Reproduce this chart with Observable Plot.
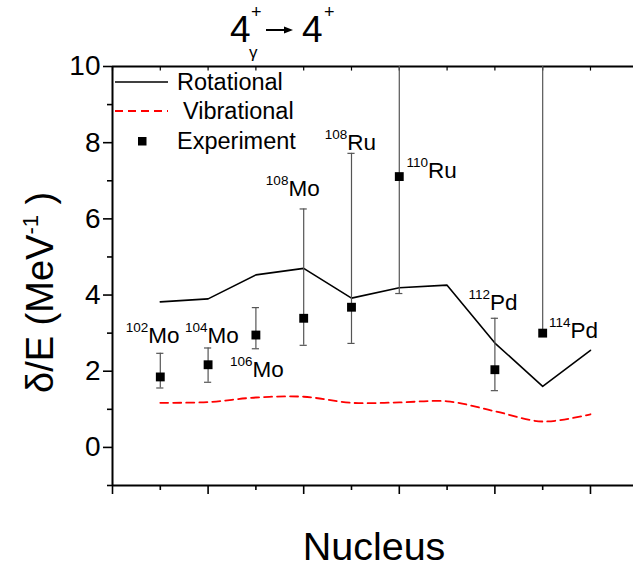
<!DOCTYPE html>
<html><head><meta charset="utf-8">
<script src="https://cdn.jsdelivr.net/npm/d3@7"></script>
<script src="https://cdn.jsdelivr.net/npm/@observablehq/plot@0.6"></script>
<style>body{margin:0;background:#fff}</style>
</head><body><div id="chart"></div>
<script>
// Theory curves, nucleus index 1..10
const nucleusIndex = [1, 2, 3, 4, 5, 6, 7, 8, 9, 10];
const rotational = [3.82, 3.90, 4.53, 4.70, 3.92, 4.19, 4.26, 2.74, 1.60, 2.55];
const vibrational = [1.17, 1.19, 1.31, 1.33, 1.17, 1.18, 1.21, 0.95, 0.68, 0.87];

// Experiment
const expIndex = [1, 2, 3, 4, 5, 6, 8, 9];
const expValue = [1.85, 2.17, 2.95, 3.39, 3.68, 7.11, 2.04, 3.00];
const expLow = [1.56, 1.71, 2.59, 2.68, 2.73, 4.04, 1.49, 3.00];
const expHigh = [2.47, 2.61, 3.67, 6.26, 7.72, 12, 3.39, 12];
const massNumber = ["102", "104", "106", "108", "108", "110", "112", "114"];
const element = ["Mo", "Mo", "Mo", "Mo", "Ru", "Ru", "Pd", "Pd"];
const labelX = [0.75, 1.99, 2.93, 3.68, 4.91, 6.60, 7.90, 9.58];
const labelY = [2.74, 2.74, 1.84, 6.61, 7.82, 7.07, 3.62, 2.88];

const yMajor = [0, 2, 4, 6, 8, 10];
const yMinor = [-1, 1, 3, 5, 7, 9];
const xMajor = [0, 2, 4, 6, 8, 10];
const xMinor = [1, 3, 5, 7, 9];

const rot = nucleusIndex.map((x, i) => ({x, y: rotational[i]}));
const vib = nucleusIndex.map((x, i) => ({x, y: vibrational[i]}));
const exp = expIndex.map((x, i) => ({x, y: expValue[i], lo: expLow[i], hi: expHigh[i],
  mass: massNumber[i], el: element[i], lx: labelX[i], ly: labelY[i]}));
const caps = [];
exp.forEach(d => {
  if (d.lo < d.y) caps.push({x: d.x, y: d.lo});
  if (d.hi <= 10) caps.push({x: d.x, y: d.hi});
});

const font = "'Liberation Sans', Arial, sans-serif";
const plot = Plot.plot({
  width: 633, height: 572,
  marginLeft: 112, marginRight: 0, marginTop: 66, marginBottom: 87,
  x: {domain: [0, 10.9], axis: null},
  y: {domain: [-1, 10], axis: null},
  style: {fontFamily: font, color: "black", background: "white", overflow: "visible"},
  marks: [
    Plot.axisY({ticks: yMajor, tickSize: 9, tickPadding: 3, fontSize: 28, strokeWidth: 1.6, label: null, tickFormat: d => String(d)}),
    Plot.axisY({ticks: yMinor, tickSize: 5, strokeWidth: 1.6, label: null, tickFormat: () => ""}),
    Plot.axisX({ticks: xMajor, tickSize: 9, strokeWidth: 1.6, label: null, tickFormat: () => ""}),
    Plot.axisX({ticks: xMinor, tickSize: 5, strokeWidth: 1.6, label: null, tickFormat: () => ""}),
    Plot.ruleX(d3.range(0, 11), {x: d => d, y1: 10, y2: 9.88, stroke: "black", strokeWidth: 1.2}),
    Plot.ruleX([0], {x: d => d, y1: -1, y2: 10, stroke: "black", strokeWidth: 2}),
    Plot.ruleY([-1, 10], {y: d => d, stroke: "black", strokeWidth: 2}),
    Plot.line(rot, {x: "x", y: "y", stroke: "black", strokeWidth: 1.6}),
    Plot.line(vib, {x: "x", y: "y", stroke: "red", strokeWidth: 1.8, strokeDasharray: "8,5", curve: "catmull-rom"}),
    Plot.ruleX(exp, {x: "x", y1: "lo", y2: "hi", stroke: "#555", strokeWidth: 1.2, clip: true}),
    Plot.ruleY(caps, {y: "y", x1: d => d.x - 0.075, x2: d => d.x + 0.075, stroke: "#555", strokeWidth: 1.2}),
    Plot.dot(exp, {x: "x", y: "y", symbol: "square", r: 5, fill: "black", stroke: "none"}),
    Plot.text(exp, {x: "lx", y: "ly", text: "el", textAnchor: "start", lineAnchor: "bottom", fontSize: 22.5, fill: "black"}),
    Plot.text(exp, {x: "lx", y: "ly", text: "mass", textAnchor: "end", lineAnchor: "bottom", fontSize: 13.5, dy: -11, fill: "black"})
  ]
});
document.getElementById("chart").appendChild(plot);

const svg = d3.select(plot);
// Title
const t = svg.append("g").attr("font-family", font).attr("fill", "black").attr("text-anchor", "start");
t.append("text").attr("x", 230).attr("y", 42).attr("font-size", 37).text("4");
t.append("text").attr("x", 251).attr("y", 18).attr("font-size", 18).text("+");
t.append("text").attr("x", 249).attr("y", 58).attr("font-size", 17).text("γ");
t.append("line").attr("x1", 266).attr("x2", 284).attr("y1", 30).attr("y2", 30).attr("stroke", "black").attr("stroke-width", 2);
t.append("path").attr("d", "M284,26.5 L293,30 L284,33.5 Z").attr("fill", "black");
t.append("text").attr("x", 302).attr("y", 42).attr("font-size", 37).text("4");
t.append("text").attr("x", 324).attr("y", 18).attr("font-size", 18).text("+");

// Axis titles
const yl = svg.append("text").attr("transform", "translate(53,393) rotate(-90)")
  .attr("text-anchor", "start").attr("font-family", font).attr("font-size", 38).attr("fill", "black");
yl.append("tspan").text("δ/E (MeV");
yl.append("tspan").attr("font-size", 22).attr("dy", -15).text("-1");
yl.append("tspan").attr("dy", 15).text(" )");
svg.append("text").attr("x", 374).attr("y", 560).attr("text-anchor", "middle")
  .attr("font-family", font).attr("font-size", 39.5).attr("fill", "black").text("Nucleus");

// Legend
const lg = svg.append("g").attr("font-family", font).attr("font-size", 23.5).attr("fill", "black").attr("text-anchor", "start");
lg.append("line").attr("x1", 115).attr("x2", 168).attr("y1", 82).attr("y2", 82).attr("stroke", "black").attr("stroke-width", 1.6);
lg.append("text").attr("x", 177).attr("y", 90).text("Rotational");
lg.append("line").attr("x1", 115).attr("x2", 168).attr("y1", 111).attr("y2", 111).attr("stroke", "red").attr("stroke-width", 1.8).attr("stroke-dasharray", "8,5");
lg.append("text").attr("x", 183).attr("y", 119).text("Vibrational");
lg.append("rect").attr("x", 138).attr("y", 137).attr("width", 8.5).attr("height", 8.5).attr("fill", "black");
lg.append("text").attr("x", 177).attr("y", 149).text("Experiment");
</script></body></html>
